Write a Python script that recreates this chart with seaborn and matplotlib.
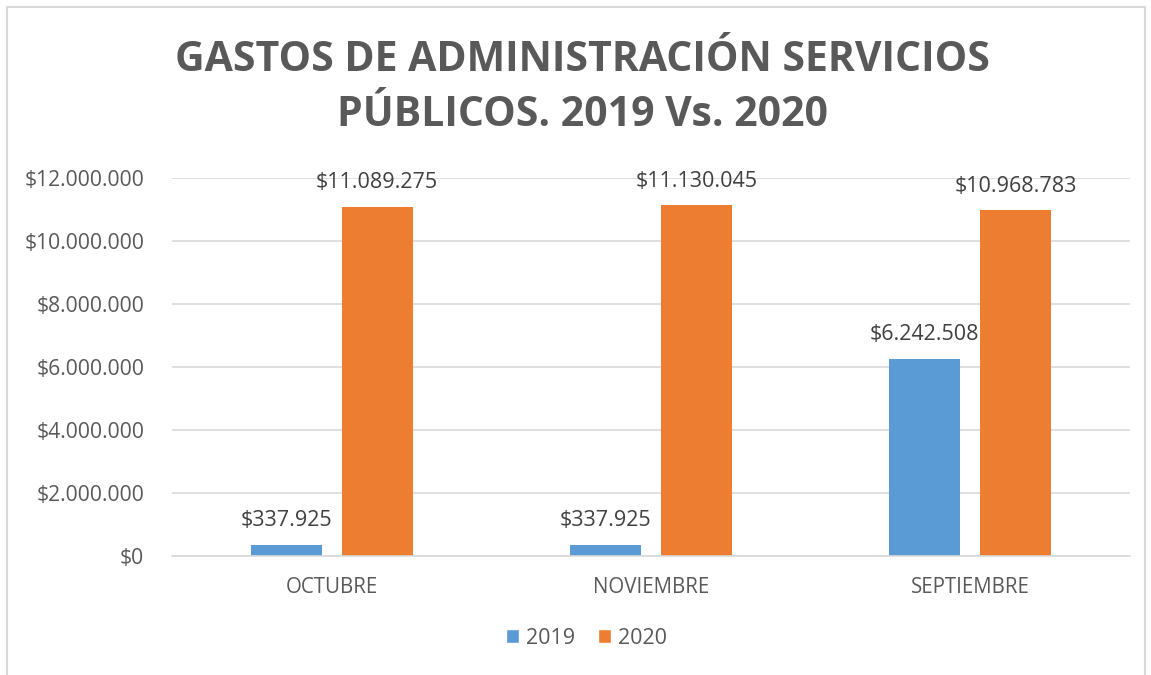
import numpy as np
import pandas as pd
import matplotlib
matplotlib.use("Agg")
import matplotlib.pyplot as plt
import seaborn as sns
from matplotlib.patches import Rectangle, Patch

meses = ["OCTUBRE", "NOVIEMBRE", "SEPTIEMBRE"]
valores_2019 = [337925, 337925, 6242508]
valores_2020 = [11089275, 11130045, 10968783]
anios = ["2019", "2020"]
yticks = [0, 2000000, 4000000, 6000000, 8000000, 10000000, 12000000]

df = pd.DataFrame({
    "mes": meses * 2,
    "valor": valores_2019 + valores_2020,
    "anio": [anios[0]] * 3 + [anios[1]] * 3,
})

def pesos(v):
    return "$" + f"{v:,.0f}".replace(",", ".")

sns.set_style("white")
plt.rcParams["font.family"] = ["Open Sans", "DejaVu Sans"]

colores = {"2019": "#5B9BD5", "2020": "#ED7D31"}
gris = "#595959"

fig = plt.figure(figsize=(11.51, 6.75), dpi=100)
ax = fig.add_axes([172 / 1151, 1 - 556 / 675, (1130 - 172) / 1151, (556 - 178) / 675])

sns.barplot(data=df, x="mes", y="valor", hue="anio", palette=colores,
            width=0.57, gap=0.22, ax=ax, legend=False, saturation=1,
            linewidth=0, edgecolor="none")

for cont in ax.containers:
    ax.bar_label(cont, labels=[pesos(b.get_height()) for b in cont],
                 padding=10, fontsize=15.5, color="#404040")

ax.set_ylim(0, 12000000)
ax.set_xlim(-0.5, 2.5)
ax.set_yticks(yticks)
ax.set_yticklabels([pesos(v) for v in yticks])
ax.grid(axis="y", color="#D9D9D9", linewidth=1.2)
ax.set_axisbelow(True)
for s in ["top", "right", "left"]:
    ax.spines[s].set_visible(False)
ax.spines["bottom"].set_color("#D9D9D9")
ax.spines["bottom"].set_linewidth(1.2)
ax.tick_params(axis="both", length=0, labelsize=14.8, labelcolor=gris)
ax.tick_params(axis="y", labelsize=15.2, pad=20)
ax.tick_params(axis="x", pad=15)
ax.set_xlabel("")
ax.set_ylabel("")

fig.text(0.506, 1 - 88 / 675, "GASTOS DE ADMINISTRACIÓN SERVICIOS\nPÚBLICOS. 2019 Vs. 2020",
         ha="center", va="center", fontsize=29.5, fontweight="bold", color=gris,
         linespacing=1.45)

handles = [Patch(facecolor=colores[a], label=a) for a in anios]
fig.legend(handles=handles, loc="center", bbox_to_anchor=(0.5096, 1 - 638 / 675),
           ncol=2, frameon=False, fontsize=15.5, labelcolor=gris,
           handlelength=0.6, handleheight=0.6, handletextpad=0.3, columnspacing=1.1)

fig.patches.append(Rectangle((7 / 1151, -0.05), (1145 - 7) / 1151, 1.05 - 7 / 675,
                             transform=fig.transFigure, fill=False,
                             edgecolor="#D9D9D9", linewidth=1.5))

fig.savefig("out.png", dpi=100, facecolor="white")
